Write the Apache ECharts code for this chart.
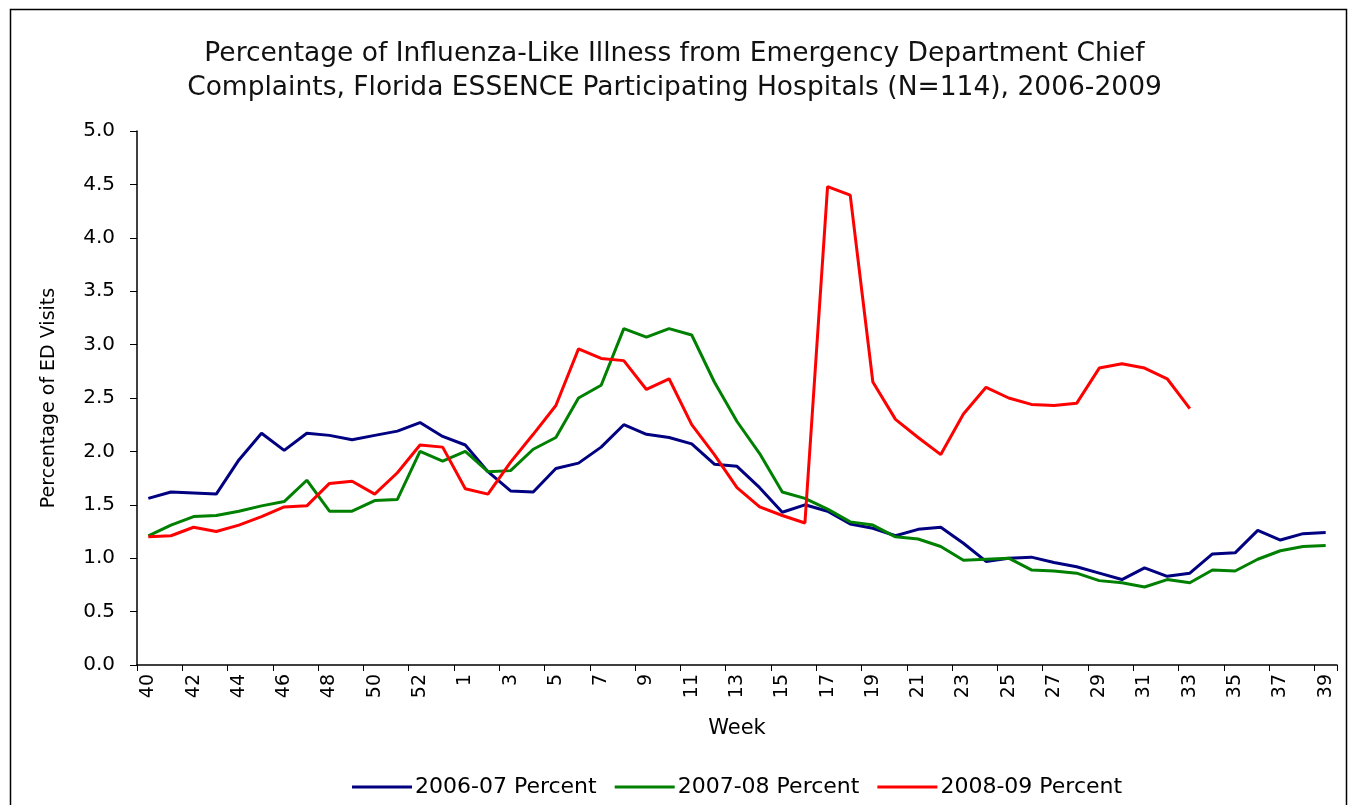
<!DOCTYPE html>
<html>
<head>
<meta charset="utf-8">
<script src="https://cdn.jsdelivr.net/npm/echarts@6/dist/echarts.min.js"></script>
<style>
  html, body { margin: 0; padding: 0; background: #fff; }
  #chart { width: 1349px; height: 805px; }
</style>
</head>
<body>
<div id="chart"></div>
<script>
// week 40 of one year to week 39 of the next (53 weeks incl. week 53)
const weeks = ["40","41","42","43","44","45","46","47","48","49","50","51","52","53",
  "1","2","3","4","5","6","7","8","9","10","11","12","13","14","15","16","17","18","19",
  "20","21","22","23","24","25","26","27","28","29","30","31","32","33","34","35","36","37","38","39"];

const pct0607 = [1.56,1.62,1.61,1.60,1.92,2.17,2.01,2.17,2.15,2.11,2.15,2.19,2.27,2.14,
  2.06,1.81,1.63,1.62,1.84,1.89,2.04,2.25,2.16,2.13,2.07,1.88,1.86,1.66,1.43,1.50,1.44,
  1.32,1.28,1.21,1.27,1.29,1.14,0.97,1.00,1.01,0.96,0.92,0.86,0.80,0.91,0.83,0.86,1.04,
  1.05,1.26,1.17,1.23,1.24];

const pct0708 = [1.21,1.31,1.39,1.40,1.44,1.49,1.53,1.73,1.44,1.44,1.54,1.55,2.00,1.91,
  2.00,1.81,1.82,2.02,2.13,2.50,2.62,3.15,3.07,3.15,3.09,2.65,2.28,1.98,1.62,1.56,1.46,
  1.34,1.31,1.20,1.18,1.11,0.98,0.99,1.00,0.89,0.88,0.86,0.79,0.77,0.73,0.80,0.77,0.89,
  0.88,0.99,1.07,1.11,1.12];

const pct0809 = [1.20,1.21,1.29,1.25,1.31,1.39,1.48,1.49,1.70,1.72,1.60,1.80,2.06,2.04,
  1.65,1.60,1.90,2.16,2.43,2.96,2.87,2.85,2.58,2.68,2.25,1.97,1.66,1.48,1.40,1.33,4.48,
  4.40,2.65,2.30,2.13,1.97,2.35,2.60,2.50,2.44,2.43,2.45,2.78,2.82,2.78,2.68,2.40,
  null,null,null,null,null,null];

const seriesNames = ["2006-07 Percent", "2007-08 Percent", "2008-09 Percent"];
const seriesColors = ["#000080", "#008000", "#ff0000"];

const font = "DejaVu Sans";
const chart = echarts.init(document.getElementById("chart"));

function lineSeries(name, data, color) {
  return {
    name: name,
    type: "line",
    data: data,
    symbol: "none",
    connectNulls: false,
    lineStyle: { color: color, width: 3 },
    itemStyle: { color: color },
    animation: false
  };
}

chart.setOption({
  backgroundColor: "#fff",
  animation: false,
  title: {
    text: "Percentage of Influenza-Like Illness from Emergency Department Chief\nComplaints, Florida ESSENCE Participating Hospitals (N=114), 2006-2009",
    left: "center",
    top: 32,
    textStyle: {
      fontFamily: font,
      fontSize: 26.5,
      fontWeight: "normal",
      color: "#111",
      lineHeight: 34
    }
  },
  graphic: [
    {
      type: "rect",
      shape: { x: 10.5, y: 9.5, width: 1336, height: 820 },
      style: { fill: "none", stroke: "#000", lineWidth: 1.5 },
      silent: true
    }
  ],
  legend: {
    data: seriesNames,
    left: 347,
    top: 771,
    icon: "rect",
    itemWidth: 60,
    itemHeight: 3,
    itemGap: 18,
    textStyle: { fontFamily: font, fontSize: 22, color: "#000", padding: [0, 0, 0, -2] }
  },
  grid: {
    left: 137,
    right: 12,
    top: 131,
    bottom: 140
  },
  xAxis: {
    type: "category",
    data: weeks,
    boundaryGap: true,
    name: "Week",
    nameLocation: "middle",
    nameGap: 53,
    nameTextStyle: { fontFamily: font, fontSize: 21, color: "#000" },
    axisLine: { lineStyle: { color: "#000", width: 1.5 } },
    axisTick: { show: true, interval: 1, length: 6, lineStyle: { color: "#000" } },
    axisLabel: {
      interval: 1,
      rotate: 90,
      margin: 9,
      fontFamily: font,
      fontSize: 19,
      color: "#000"
    },
    splitLine: { show: false }
  },
  yAxis: {
    type: "value",
    min: 0,
    max: 5,
    interval: 0.5,
    name: "Percentage of ED Visits",
    nameLocation: "middle",
    nameGap: 78,
    nameRotate: 90,
    nameTextStyle: { fontFamily: font, fontSize: 19, color: "#000" },
    axisLine: { show: true, lineStyle: { color: "#000", width: 1.5 } },
    axisTick: { show: true, length: 7, lineStyle: { color: "#000" } },
    axisLabel: {
      margin: 22,
      fontFamily: font,
      fontSize: 20,
      color: "#000",
      formatter: v => v.toFixed(1)
    },
    splitLine: { show: false }
  },
  series: [
    lineSeries(seriesNames[0], pct0607, seriesColors[0]),
    lineSeries(seriesNames[1], pct0708, seriesColors[1]),
    lineSeries(seriesNames[2], pct0809, seriesColors[2])
  ]
});
</script>
</body>
</html>
